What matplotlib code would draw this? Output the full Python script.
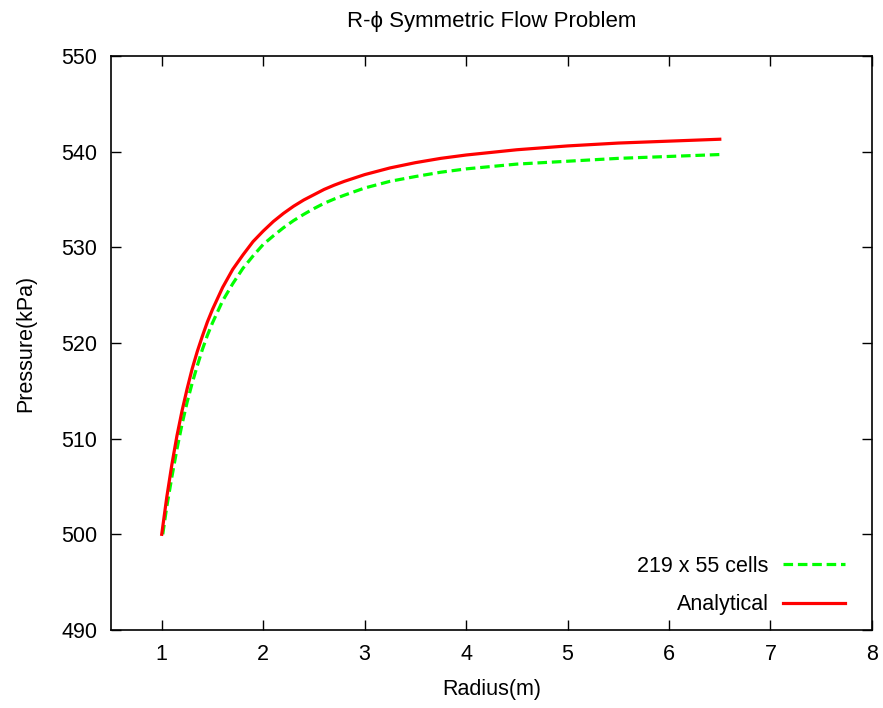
import matplotlib
matplotlib.use('Agg')
import matplotlib.pyplot as plt

plt.rcParams['font.family'] = ['Liberation Sans', 'DejaVu Sans']

# radius (m) and pressure (kPa)
radius = [1.0, 1.05, 1.1, 1.15, 1.2, 1.25, 1.3, 1.35, 1.4, 1.45, 1.5, 1.6,
          1.7, 1.8, 1.9, 2.0, 2.1, 2.2, 2.3, 2.4, 2.5, 2.6, 2.7, 2.8,
          3.0, 3.25, 3.5, 3.75, 4.0, 4.5, 5.0, 5.5, 6.0, 6.5]
analytical = [500.0, 503.9, 507.3, 510.3, 512.9, 515.2, 517.3, 519.1, 520.7,
              522.2, 523.5, 525.8, 527.7, 529.2, 530.6, 531.7, 532.7, 533.55,
              534.3, 534.95, 535.5, 536.05, 536.5, 536.9, 537.6, 538.3,
              538.85, 539.3, 539.65, 540.2, 540.6, 540.9, 541.1, 541.3]

radius_num = [1.01, 1.05, 1.1, 1.15, 1.2, 1.25, 1.3, 1.35, 1.4, 1.45, 1.5,
              1.6, 1.7, 1.8, 1.9, 2.0, 2.1, 2.2, 2.3, 2.4, 2.5, 2.6, 2.7,
              2.8, 3.0, 3.25, 3.5, 3.75, 4.0, 4.5, 5.0, 5.5, 6.0, 6.5]
numerical = [500.0, 502.9, 506.0, 508.9, 511.5, 513.8, 515.8, 517.6, 519.3,
             520.8, 522.1, 524.4, 526.2, 527.8, 529.1, 530.3, 531.2, 532.05,
             532.8, 533.45, 534.05, 534.6, 535.05, 535.45, 536.2, 536.9,
             537.4, 537.85, 538.2, 538.7, 539.0, 539.3, 539.5, 539.7]

fig = plt.figure(figsize=(8.83, 7.08), dpi=100)
ax = fig.add_axes([0.1257, 0.1102, 0.8618, 0.8107])

ax.plot(radius_num, numerical, color='#00ff00', lw=2.3, ls=(0, (3, 1.5)),
        label='219 x 55 cells', solid_joinstyle='round', dash_joinstyle='round')
ax.plot(radius, analytical, color='#ff0000', lw=2.3, label='Analytical',
        solid_joinstyle='round')

ax.set_xlim(0.5, 8)
ax.set_ylim(490, 550)
ax.set_xticks(range(1, 9))
ax.set_yticks(range(490, 551, 10))
ax.tick_params(direction='in', length=7, width=1, top=True, right=True,
               labelsize=15.5, pad=10)
for s in ax.spines.values():
    s.set_linewidth(1.2)

ax.set_title('R-\u03d5 Symmetric Flow Problem', fontsize=16, pad=21)
ax.set_xlabel('Radius(m)', fontsize=15.5, labelpad=10)
ax.set_ylabel('Pressure(kPa)', fontsize=15.5, labelpad=18)

ax.legend(loc='lower right', frameon=False, markerfirst=False, fontsize=15.5,
          handlelength=2.9, handletextpad=0.65, labelspacing=0.8,
          bbox_to_anchor=(0.99, -0.008))

plt.savefig('out.png', dpi=100)
